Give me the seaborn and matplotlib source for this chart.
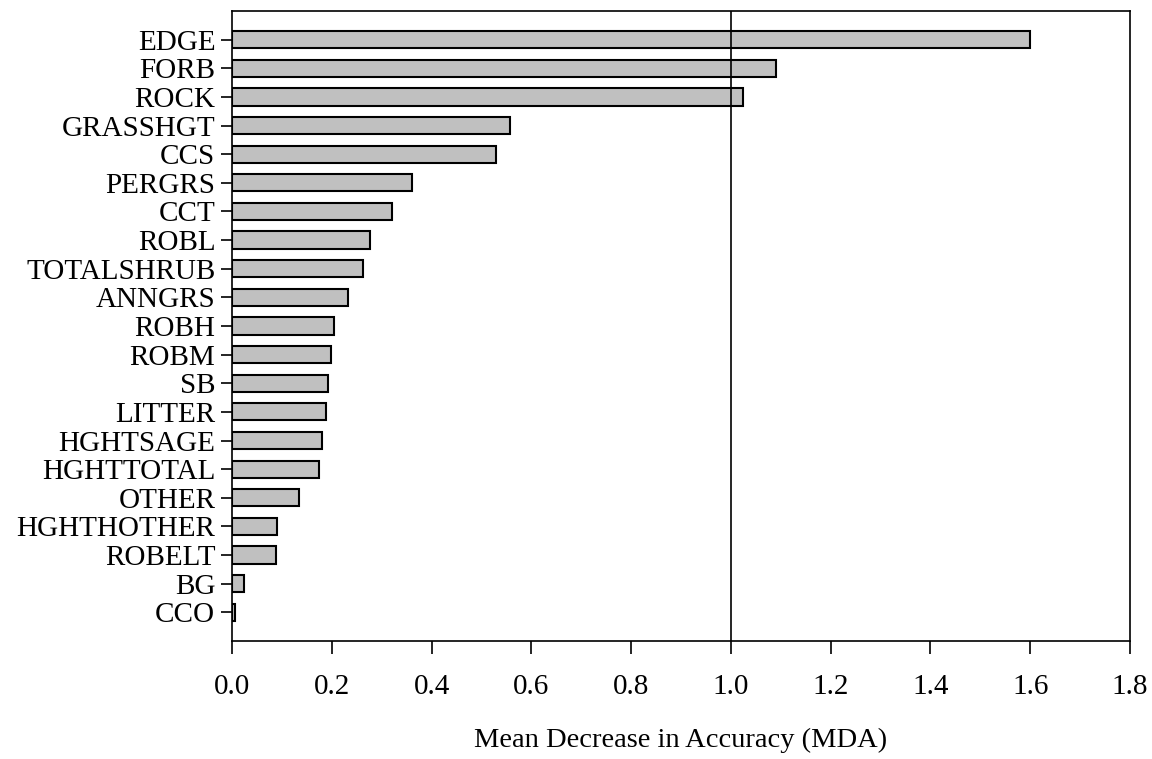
import matplotlib
matplotlib.use("Agg")
import matplotlib.pyplot as plt
import seaborn as sns
import pandas as pd

variables = ["EDGE", "FORB", "ROCK", "GRASSHGT", "CCS", "PERGRS", "CCT", "ROBL",
             "TOTALSHRUB", "ANNGRS", "ROBH", "ROBM", "SB", "LITTER", "HGHTSAGE",
             "HGHTTOTAL", "OTHER", "HGHTHOTHER", "ROBELT", "BG", "CCO"]
mda = [1.600, 1.091, 1.025, 0.558, 0.529, 0.360, 0.321, 0.276,
       0.262, 0.232, 0.204, 0.198, 0.192, 0.188, 0.180,
       0.174, 0.134, 0.090, 0.088, 0.024, 0.006]
xticks = [0.0, 0.2, 0.4, 0.6, 0.8, 1.0, 1.2, 1.4, 1.6, 1.8]

df = pd.DataFrame({"variable": variables, "mda": mda})

sns.set_style("white")
plt.rcParams['font.family'] = ['Liberation Serif', 'DejaVu Serif']
plt.rcParams['axes.labelcolor'] = 'black'
plt.rcParams['text.color'] = 'black'

fig = plt.figure(figsize=(11.52, 7.59), dpi=100)
ax = fig.add_axes([0.2014, 0.1555, 0.7795, 0.830])

sns.barplot(data=df, x="mda", y="variable", orient="h", color="#c0c0c0",
            edgecolor="black", linewidth=1.5, width=0.6, saturation=1, ax=ax)

ax.axvline(1.0, color="black", linewidth=1.2)

ax.set_xlim(0, 1.8)
ax.set_ylim(len(variables), -1)
ax.set_xticks(xticks)
ax.set_xticklabels([f"{t:.1f}" for t in xticks])
ax.set_xlabel("Mean Decrease in Accuracy (MDA)", fontsize=20.5, labelpad=20,
              color="black")
ax.set_ylabel("")

ax.tick_params(axis="x", direction="out", length=9, width=1.2, labelsize=21,
               pad=15, bottom=True, colors="black")
ax.tick_params(axis="y", direction="out", length=8, width=1.2, labelsize=21,
               pad=4, left=True, colors="black")

for s in ax.spines.values():
    s.set_visible(True)
    s.set_color("black")
    s.set_linewidth(1.2)

fig.savefig("out.png", dpi=100)
